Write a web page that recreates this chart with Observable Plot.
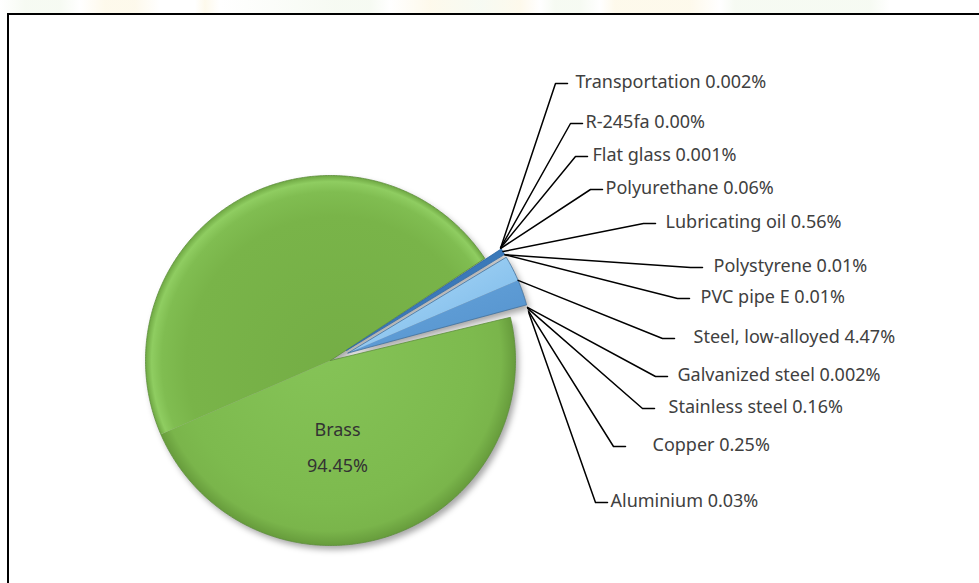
<!DOCTYPE html>
<html>
<head>
<meta charset="utf-8">
<script src="https://cdn.jsdelivr.net/npm/d3@7"></script>
<script src="https://cdn.jsdelivr.net/npm/@observablehq/plot@0.6"></script>
<style>
  html, body { margin: 0; padding: 0; background: #fff; width: 979px; height: 583px; overflow: hidden; }
  #wrap { position: relative; width: 979px; height: 583px; }
  #band { position: absolute; left: 0; top: 0; width: 979px; height: 20px; opacity: 0.35;
    background: linear-gradient(90deg, #fff 0px, #e6f2dc 25px, #e6f2dc 60px, #fff 80px, #fbefc8 105px, #fbefc8 135px, #fff 160px,
      #fff 195px, #fbefc8 205px, #fff 220px, #e6f2dc 335px, #e6f2dc 370px, #fff 390px, #fbefc8 430px, #e6f2dc 480px, #fbefc8 520px,
      #fff 540px, #e6f2dc 555px, #e6f2dc 580px, #fff 600px, #fbefc8 615px, #fbefc8 690px, #fff 720px, #e6f2dc 735px, #e6f2dc 870px, #fff 890px); }
  #chart { position: absolute; left: 0; top: 0; }
  #frame { position: absolute; left: 7px; top: 13px; right: -10px; bottom: -10px; background: #fff;
           border-left: 2px solid #000; border-top: 2px solid #000; pointer-events: none; }
</style>
</head>
<body>
<div id="wrap"><div id="band"></div><div id="frame"></div><div id="chart"></div></div>
<script>
// ---------- data ----------
const materials = ["Transportation", "R-245fa", "Flat glass", "Polyurethane", "Lubricating oil",
  "Polystyrene", "PVC pipe E", "Steel, low-alloyed", "Galvanized steel", "Stainless steel",
  "Copper", "Aluminium", "Brass"];
const shares = [0.002, 0.00, 0.001, 0.06, 0.56, 0.01, 0.01, 4.47, 0.002, 0.16, 0.25, 0.03, 94.45];

// ---------- layout & style (not data) ----------
const W = 979, H = 583;
const pieLayout = { cx: 330, cy: 360, r: 185, explode: 19, startDeg: 56.5 };
const labelElbowX = [555, 570, 575, 590, 643, 690, 677, 662, 655, 642, 613, 595];
const labelTextX  = [575, 585, 592, 605, 665, 713, 700, 693, 677, 668, 652, 610];
const labelY      = [83, 123, 156, 189, 223, 267, 298, 338, 376, 408, 446, 502];
const elbowLen = 12;
const brassLabelPos = { x: 337, y1: 430, y2: 466 };
const sliceFill = ["none", "none", "none", "none", "#3b79b9", "none", "none",
  "steel", "none", "none", "none", "none", "brass"];

const fmt = v => (v > 0 && v < 0.01 ? v.toFixed(3) : v.toFixed(2)) + "%";

const rows = materials.map((name, i) => ({ name, share: shares[i], i }));
const start = pieLayout.startDeg * Math.PI / 180;
const arcs = d3.pie().sort(null).value(d => d.share).startAngle(start).endAngle(start + 2 * Math.PI)(rows);

const pt = (c, r, a) => [c[0] + r * Math.sin(a), c[1] - r * Math.cos(a)];
function wedge(c, r, a0, a1) {
  const pts = [c];
  const n = Math.max(2, Math.ceil((a1 - a0) / (Math.PI / 360)));
  for (let k = 0; k <= n; k++) pts.push(pt(c, r, a0 + (a1 - a0) * k / n));
  pts.push(c);
  return pts;
}

const faces = [], outlines = [], leaders = [], labels = [];
const order = [12, ...d3.range(0, 12).filter(i => i !== 7), 7];
for (const i of order) {
  const a = arcs[i];
  const mid = (a.startAngle + a.endAngle) / 2;
  const off = materials[i] === "Brass" ? 0 : pieLayout.explode;
  const c = pt([pieLayout.cx, pieLayout.cy], off, mid);
  const style = sliceFill[i];
  if (style === "brass" || style === "steel") {
    const fa = style === "brass" ? "url(#brassB)" : "url(#steelA)";
    const fb = style === "brass" ? "url(#brassA)" : "url(#steelB)";
    faces.push({ key: materials[i] + "a", pts: wedge(c, pieLayout.r, a.startAngle, mid), fill: fa });
    faces.push({ key: materials[i] + "b", pts: wedge(c, pieLayout.r, mid, a.endAngle), fill: fb });
    outlines.push({ key: materials[i], pts: wedge(c, pieLayout.r, a.startAngle, a.endAngle),
      stroke: style === "brass" ? "#5e8f3c" : "#41719c" });
  } else if (style !== "none" && a.endAngle > a.startAngle) {
    faces.push({ key: materials[i], pts: wedge(c, pieLayout.r, a.startAngle, a.endAngle), fill: style });
    outlines.push({ key: materials[i], pts: wedge(c, pieLayout.r, a.startAngle, a.endAngle), stroke: "#2e6aa8" });
  }
  if (i < 12) {
    const anchor = pt(c, pieLayout.r, mid);
    leaders.push({ key: materials[i], x: anchor[0], y: anchor[1] });
    leaders.push({ key: materials[i], x: labelElbowX[i], y: labelY[i] });
    leaders.push({ key: materials[i], x: labelElbowX[i] + elbowLen, y: labelY[i] });
    labels.push({ x: labelTextX[i], y: labelY[i] - 1, text: `${materials[i]} ${fmt(shares[i])}` });
  }
}
const faceRows = faces.flatMap(f => f.pts.map(([x, y]) => ({ key: f.key, x, y, fill: f.fill })));
const outlineRows = outlines.flatMap(f => f.pts.map(([x, y]) => ({ key: f.key, x, y, stroke: f.stroke })));
const brassIdx = materials.indexOf("Brass");
const brassLabels = [
  { x: brassLabelPos.x, y: brassLabelPos.y1, text: materials[brassIdx] },
  { x: brassLabelPos.x, y: brassLabelPos.y2, text: fmt(shares[brassIdx]) }
];

function defsMark() {
  const defs = d3.create("svg:defs");
  const rg = (id, stops, fx, fy) => {
    const g = defs.append("radialGradient").attr("id", id).attr("gradientUnits", "userSpaceOnUse")
      .attr("cx", pieLayout.cx).attr("cy", pieLayout.cy).attr("r", pieLayout.r)
      .attr("fx", fx).attr("fy", fy);
    for (const [o, col] of stops) g.append("stop").attr("offset", o).attr("stop-color", col);
  };
  rg("brassA", [[0, "#74ad45"], [0.8, "#79b449"], [0.92, "#80bd51"], [0.97, "#8fcd61"], [1, "#6fa843"]], pieLayout.cx + 20, pieLayout.cy + 20);
  rg("brassB", [[0, "#86c458"], [0.8, "#7dba4e"], [0.93, "#7ab54b"], [1, "#679c3c"]], pieLayout.cx - 20, pieLayout.cy - 20);
  const lg = (id, stops) => {
    const g = defs.append("linearGradient").attr("id", id).attr("x1", 0).attr("y1", 0).attr("x2", 1).attr("y2", 1);
    for (const [o, col] of stops) g.append("stop").attr("offset", o).attr("stop-color", col);
  };
  lg("steelA", [[0, "#b2def9"], [0.6, "#8cc4ee"], [1, "#6aa8de"]]);
  lg("steelB", [[0, "#68a6dc"], [1, "#5290cc"]]);
  return defs.node();
}

const chart = Plot.plot({
  width: W, height: H, margin: 0,
  x: { domain: [0, W], range: [0, W], axis: null },
  y: { domain: [0, H], range: [0, H], axis: null },
  color: { type: "identity" },
  style: { background: "transparent", fontFamily: "Noto Sans", overflow: "visible" },
  marks: [
    defsMark,
    Plot.line(faceRows, { x: "x", y: "y", z: "key", fill: "fill", stroke: "none", curve: "linear",
      imageFilter: "drop-shadow(3px 4px 3px rgba(0,0,0,0.35))" }),
    Plot.line(outlineRows, { x: "x", y: "y", z: "key", stroke: "stroke", strokeWidth: 1, strokeOpacity: 0.8 }),
    Plot.line(leaders, { x: "x", y: "y", z: "key", stroke: "#000", strokeWidth: 1.5 }),
    Plot.text(labels, { x: "x", y: "y", text: "text", textAnchor: "start", fill: "#404040", fontSize: 18 }),
    Plot.text(brassLabels, { x: "x", y: "y", text: "text", textAnchor: "middle", fill: "#333", fontSize: 18 })
  ]
});
document.getElementById("chart").appendChild(chart);
</script>
</body>
</html>
